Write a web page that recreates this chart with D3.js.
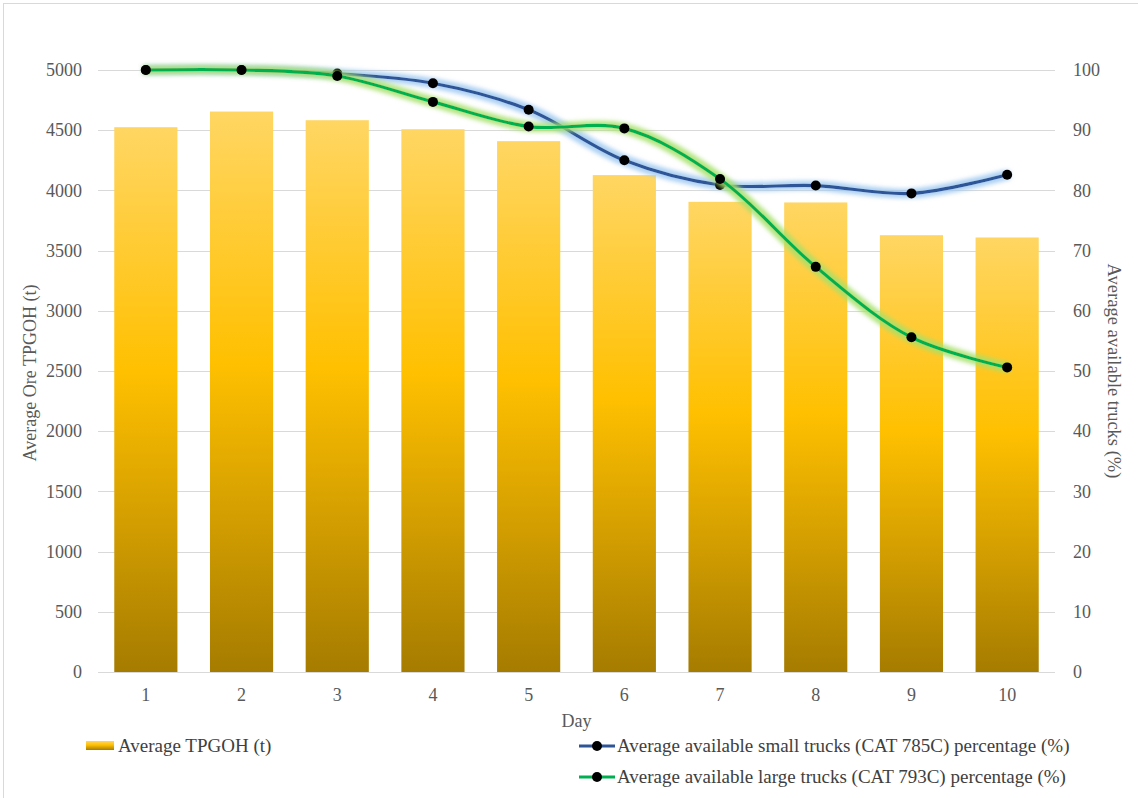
<!DOCTYPE html>
<html>
<head>
<meta charset="utf-8">
<script src="https://cdn.jsdelivr.net/npm/d3@7"></script>
<style>
  html, body { margin: 0; padding: 0; background: #fff; }
  #chart text { font-family: "Liberation Serif", "Times New Roman", serif; }
</style>
</head>
<body>
<svg id="chart" width="1138" height="798"></svg>
<script>
// Days on the x axis
const days = ["1", "2", "3", "4", "5", "6", "7", "8", "9", "10"];
// Average ore tonnes per gross operating hour
const tpgoh = [4525, 4655, 4583, 4508, 4409, 4127, 3905, 3900, 3628, 3609];
// Average available small trucks (CAT 785C), %
const smallTrucks = [100, 100, 99.4, 97.8, 93.4, 85.0, 80.9, 80.8, 79.5, 82.6];
// Average available large trucks (CAT 793C), %
const largeTrucks = [100, 100, 99.0, 94.7, 90.6, 90.3, 81.9, 67.3, 55.6, 50.6];
// Axis ticks
const leftTicks = [0, 500, 1000, 1500, 2000, 2500, 3000, 3500, 4000, 4500, 5000];
const rightTicks = [0, 10, 20, 30, 40, 50, 60, 70, 80, 90, 100];

const svg = d3.select("#chart");
const W = 1138, H = 798;
const plot = { left: 98, right: 1055, top: 70, bottom: 672 };
const serif = "Liberation Serif";

// outer frame of the chart area
svg.append("rect")
  .attr("x", 3.5).attr("y", 3.5).attr("width", W + 10).attr("height", H + 10)
  .attr("fill", "none").attr("stroke", "#d9d9d9").attr("stroke-width", 1);

const defs = svg.append("defs");
const grad = defs.append("linearGradient")
  .attr("id", "barFill").attr("x1", 0).attr("y1", 0).attr("x2", 0).attr("y2", 1);
grad.append("stop").attr("offset", "0%").attr("stop-color", "#ffd663");
grad.append("stop").attr("offset", "45%").attr("stop-color", "#ffc000");
grad.append("stop").attr("offset", "100%").attr("stop-color", "#a67c00");

// soft halo behind the trend lines
function glow(id, color) {
  const f = defs.append("filter").attr("id", id)
    .attr("x", "-5%").attr("y", "-20%").attr("width", "110%").attr("height", "140%");
  f.append("feMorphology").attr("in", "SourceAlpha").attr("operator", "dilate").attr("radius", 2.5).attr("result", "d");
  f.append("feGaussianBlur").attr("in", "d").attr("stdDeviation", 2.2).attr("result", "b");
  f.append("feFlood").attr("flood-color", color).attr("flood-opacity", 0.85);
  f.append("feComposite").attr("in2", "b").attr("operator", "in").attr("result", "g");
  const m = f.append("feMerge");
  m.append("feMergeNode").attr("in", "g");
  m.append("feMergeNode").attr("in", "SourceGraphic");
}
glow("glowBlue", "#9dc8f0");
glow("glowGreen", "#a6e06a");

const x = d3.scaleBand().domain(days).range([plot.left, plot.right]).paddingInner(0.34).paddingOuter(0.17);
const xc = d => x(d) + x.bandwidth() / 2;
const yL = d3.scaleLinear().domain([0, 5000]).range([plot.bottom, plot.top]);
const yR = d3.scaleLinear().domain([0, 100]).range([plot.bottom, plot.top]);

// gridlines
svg.append("g").selectAll("line").data(leftTicks).join("line")
  .attr("x1", plot.left).attr("x2", plot.right)
  .attr("y1", d => Math.round(yL(d)) + 0.5).attr("y2", d => Math.round(yL(d)) + 0.5)
  .attr("stroke", "#d9d9d9").attr("stroke-width", 1);

// bars
svg.append("g").selectAll("rect").data(days).join("rect")
  .attr("x", d => x(d)).attr("width", x.bandwidth())
  .attr("y", (d, i) => yL(tpgoh[i])).attr("height", (d, i) => plot.bottom - yL(tpgoh[i]))
  .attr("fill", "url(#barFill)");

// axes
const tickFont = g => {
  g.attr("font-family", serif);
  g.selectAll("text").attr("font-size", 18).attr("fill", "#595959");
};

const axL = svg.append("g").attr("transform", `translate(${plot.left},0)`)
  .call(d3.axisLeft(yL).tickValues(leftTicks).tickFormat(d3.format("d")).tickSize(0).tickPadding(16));
axL.select(".domain").remove(); tickFont(axL);

const axR = svg.append("g").attr("transform", `translate(${plot.right},0)`)
  .call(d3.axisRight(yR).tickValues(rightTicks).tickFormat(d3.format("d")).tickSize(0).tickPadding(18));
axR.select(".domain").remove(); tickFont(axR);

const axB = svg.append("g").attr("transform", `translate(0,${plot.bottom})`)
  .call(d3.axisBottom(x).tickSize(0).tickPadding(16));
axB.select(".domain").remove(); tickFont(axB);

// axis titles
svg.append("text").attr("transform", `translate(36,${(plot.top + plot.bottom) / 2 + 2}) rotate(-90)`)
  .attr("text-anchor", "middle").attr("font-size", 18).attr("fill", "#595959")
  .text("Average Ore TPGOH (t)");
svg.append("text").attr("transform", `translate(1108,371) rotate(90)`)
  .attr("text-anchor", "middle").attr("font-size", 18.5).attr("fill", "#595959")
  .text("Average available trucks (%)");
svg.append("text").attr("x", (plot.left + plot.right) / 2).attr("y", 727)
  .attr("text-anchor", "middle").attr("font-size", 18).attr("fill", "#595959")
  .text("Day");

// smoothed percentage lines
const line = vals => d3.line().x((d, i) => xc(days[i])).y(d => yR(d))
  .curve(d3.curveCatmullRom.alpha(0.5))(vals);

function series(vals, color, filter) {
  const g = svg.append("g");
  g.append("path").attr("d", line(vals)).attr("fill", "none")
    .attr("stroke", color).attr("stroke-width", 3.2).attr("filter", `url(#${filter})`);
  g.selectAll("circle").data(vals).join("circle")
    .attr("cx", (d, i) => xc(days[i])).attr("cy", d => yR(d)).attr("r", 5)
    .attr("fill", "#000");
}
series(smallTrucks, "#2f5597", "glowBlue");
series(largeTrucks, "#00b050", "glowGreen");

// legend
const lg = svg.append("g").attr("font-size", 19).attr("fill", "#404040");
lg.append("rect").attr("x", 86).attr("y", 741).attr("width", 28).attr("height", 9).attr("fill", "url(#barFill)");
lg.append("text").attr("x", 118).attr("y", 752).text("Average TPGOH (t)");

const legendLines = [
  { y: 746, color: "#2f5597", label: "Average available small trucks (CAT 785C) percentage (%)" },
  { y: 777, color: "#00b050", label: "Average available large trucks (CAT 793C) percentage (%)" }
];
legendLines.forEach(d => {
  lg.append("line").attr("x1", 579).attr("x2", 615).attr("y1", d.y).attr("y2", d.y)
    .attr("stroke", d.color).attr("stroke-width", 3.2);
  lg.append("circle").attr("cx", 597).attr("cy", d.y).attr("r", 5).attr("fill", "#000");
  lg.append("text").attr("x", 617).attr("y", d.y + 6).text(d.label);
});
</script>
</body>
</html>
